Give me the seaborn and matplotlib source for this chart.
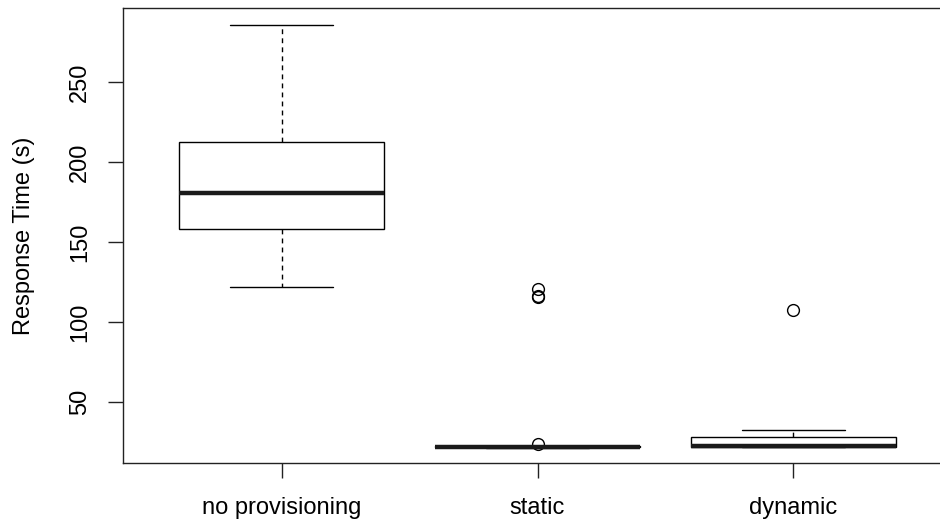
import numpy as np
import pandas as pd
import matplotlib
matplotlib.use("Agg")
import matplotlib.pyplot as plt
import seaborn as sns

# response times (s) per provisioning strategy
groups = ["no provisioning", "static", "dynamic"]
no_provisioning = [121.9, 150.0, 158.1, 170.0, 180.6, 195.0, 212.5, 240.0, 285.6]
static = [21.4, 21.5, 21.6, 21.7, 21.8, 21.8, 21.9, 22.0, 22.0, 22.1,
          22.1, 22.2, 22.3, 22.3, 22.4, 22.5, 23.7, 115.6, 116.5, 120.5]
dynamic = [21.8, 22.0, 22.0, 22.3, 22.6, 24.0, 28.1, 32.5, 107.5]
yticks = [50, 100, 150, 200, 250]

df = pd.DataFrame({
    "group": ["no provisioning"] * len(no_provisioning)
             + ["static"] * len(static)
             + ["dynamic"] * len(dynamic),
    "rt": no_provisioning + static + dynamic,
})

sns.set_style("ticks")
plt.rcParams["font.family"] = ["Liberation Sans", "DejaVu Sans"]
plt.rcParams["text.color"] = "black"
plt.rcParams["xtick.color"] = "black"
plt.rcParams["ytick.color"] = "black"
plt.rcParams["axes.labelcolor"] = "black"

W, H = 940, 522
fig = plt.figure(figsize=(W / 100, H / 100), dpi=100)
# plot box runs past the right edge of the figure, like the cropped original
ax = fig.add_axes([123 / W, (H - 463) / H, (952 - 123) / W, (463 - 8) / H])

sns.boxplot(
    data=df, x="group", y="rt", order=groups, ax=ax,
    width=0.8, color="white", linecolor="black", linewidth=1.0,
    medianprops={"linewidth": 3.2, "color": "#1a1a1a"},
    whiskerprops={"linestyle": (0, (3.5, 3))},
    flierprops={"marker": "o", "markersize": 8.5, "markerfacecolor": "none",
                "markeredgecolor": "black", "markeredgewidth": 1.0},
)

ax.set_xlim(-0.62, 2.62)
ax.set_ylim(11.9, 296.2)
ax.set_yticks(yticks)
ax.set_yticklabels([str(v) for v in yticks], rotation=90, va="center")
ax.set_xlabel("")
ax.set_ylabel("Response Time (s)", fontsize=17, va="center")
ax.yaxis.set_label_coords(-0.119, 0.5)

ax.tick_params(axis="both", direction="out", length=10.8, width=1.0,
               color="#222222", labelsize=17, bottom=True, left=True)
ax.tick_params(axis="x", pad=14)
ax.tick_params(axis="y", pad=12)
for side in ["left", "top", "bottom", "right"]:
    ax.spines[side].set_visible(True)
    ax.spines[side].set_color("#222222")
    ax.spines[side].set_linewidth(1.0)

fig.savefig("out.png", dpi=100)
